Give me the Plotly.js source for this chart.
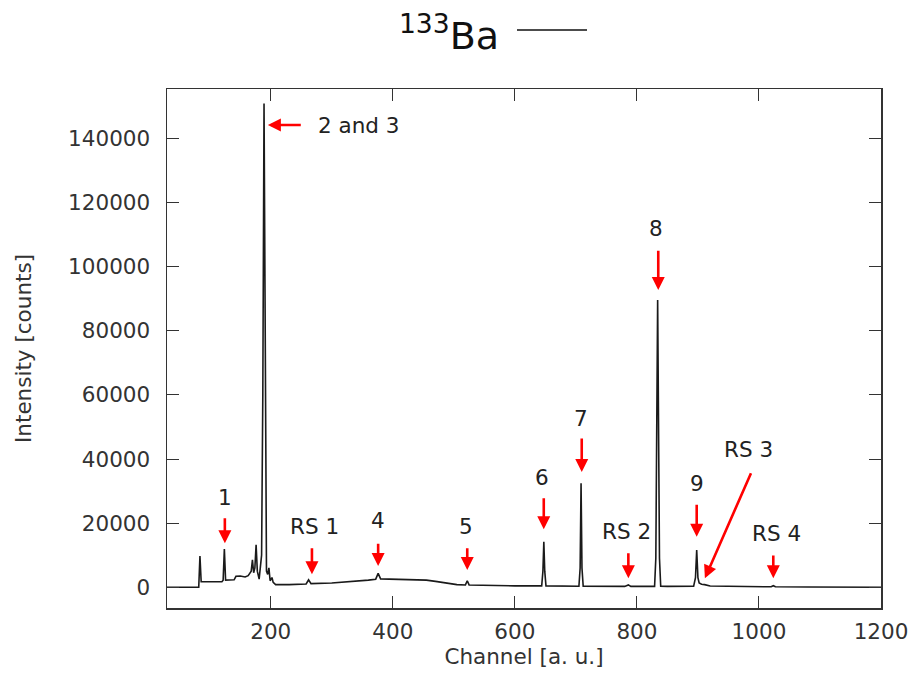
<!DOCTYPE html>
<html>
<head>
<meta charset="utf-8">
<script src="https://cdn.plot.ly/plotly-3.0.1.min.js"></script>
<style>html,body{margin:0;padding:0;background:#fff;}#chart{width:916px;height:689px;}</style>
</head>
<body>
<div id="chart"></div>
<script>
// Spectrum data (channel, counts)
const channel = [30, 82, 84, 86, 120, 122, 124, 126, 140, 143, 150, 158, 163, 168, 170, 172, 174, 176, 178, 181,
  185, 187, 189, 191, 193, 195, 197, 199, 202, 204, 208, 230, 258, 262, 266, 300, 330, 360, 372, 376,
  380, 420, 455, 470, 485, 505, 519, 522, 525, 560, 600, 644, 646, 647.5, 649, 651, 705, 707, 708.5, 710,
  712, 780, 786, 790, 829, 831, 834, 837, 839, 850, 893, 896, 898, 900, 902, 906, 911, 920, 960, 1000,
  1020, 1023.5, 1027, 1080, 1140, 1200];
const counts = [0, 0, 9700, 1700, 1700, 2200, 11900, 2200, 2300, 3400, 3500, 3200, 3600, 5000, 8500, 4500, 6000, 13200, 5000, 2500,
  10000, 60000, 151000, 60000, 5000, 4000, 6000, 2000, 3000, 1500, 800, 800, 1000, 2300, 1100, 1300, 1700, 2200, 2500, 4300,
  2600, 2400, 2200, 1800, 1300, 800, 700, 2000, 700, 500, 400, 400, 5000, 14200, 5000, 400, 300, 6000, 32400, 6000,
  300, 250, 700, 250, 250, 9000, 89600, 9000, 300, 250, 300, 3000, 11600, 3000, 1300, 900, 800, 350, 200, 150,
  120, 450, 120, 60, 20, 0];

// Peak labels and arrows (label position, arrow tail, arrow head) in data units
const peakLabels = ["1", "RS 1", "4", "5", "6", "7", "RS 2", "8", "9", "RS 3", "RS 4"];
const labelX = [124.3, 271.9, 375.2, 519.5, 645.3, 707.6, 783, 831.1, 897.8, 982.5, 1029];
const labelY = [27840, 18880, 20750, 18880, 34300, 52700, 17320, 112000, 32430, 42820, 16820];
const arrowHeadX = [124.8, 267.5, 376, 522, 647.4, 709.6, 786, 835, 898, 911.4, 1023.5];
const arrowHeadY = [13700, 4030, 6620, 5370, 18070, 35950, 2780, 92760, 15760, 2780, 2780];
const arrowTailX = [124.8, 267.5, 376, 522, 647.4, 709.6, 786, 835, 898, 988, 1023.5];
const arrowTailY = [22000, 12640, 14010, 12640, 28250, 46880, 11080, 105460, 26190, 36050, 10360];
const mainLabel = "2 and 3";
const mainLabelX = 274.7, mainLabelY = 144250;
const mainArrowHead = [195.3, 144250], mainArrowTail = [251.7, 144250];

const xTicks = [200, 400, 600, 800, 1000, 1200];
const yTicks = [0, 20000, 40000, 60000, 80000, 100000, 120000, 140000];
const xTitle = "Channel [a. u.]";
const yTitle = "Intensity [counts]";

const FONT = "DejaVu Sans, sans-serif";
const RED = "#ff0000";
const FS = 21.5;

const annotations = [];
for (let i = 0; i < peakLabels.length; i++) {
  annotations.push({
    x: arrowHeadX[i], y: arrowHeadY[i], xref: "x", yref: "y",
    ax: arrowTailX[i], ay: arrowTailY[i], axref: "x", ayref: "y",
    text: "", showarrow: true, arrowhead: 2, arrowsize: 1, arrowwidth: 2.6,
    arrowcolor: RED, standoff: 0, startstandoff: 0
  });
  annotations.push({
    x: labelX[i], y: labelY[i], xref: "x", yref: "y", text: peakLabels[i],
    showarrow: false, xanchor: "center", yanchor: "middle",
    font: {family: FONT, size: FS, color: "#222"}
  });
}
annotations.push({
  x: mainArrowHead[0], y: mainArrowHead[1], xref: "x", yref: "y",
  ax: mainArrowTail[0], ay: mainArrowTail[1], axref: "x", ayref: "y",
  text: "", showarrow: true, arrowhead: 2, arrowsize: 1, arrowwidth: 2.6,
  arrowcolor: RED, standoff: 0, startstandoff: 0
});
annotations.push({
  x: mainLabelX, y: mainLabelY, xref: "x", yref: "y", text: mainLabel,
  showarrow: false, xanchor: "left", yanchor: "middle",
  font: {family: FONT, size: FS, color: "#222"}
});

const trace = {
  x: channel, y: counts, type: "scatter", mode: "lines",
  line: {color: "#1a1a1a", width: 1.6}, showlegend: false, name: "133Ba"
};

const axisCommon = {
  showgrid: false, zeroline: false, showline: true, linecolor: "#333", linewidth: 1.5,
  mirror: "ticks", ticks: "inside", ticklen: 12, tickwidth: 1, tickcolor: "#333",
  tickfont: {family: FONT, size: FS, color: "#333"}
};

const layout = {
  width: 916, height: 689,
  margin: {l: 167, r: 35, t: 89, b: 81},
  paper_bgcolor: "#fff", plot_bgcolor: "#fff",
  title: {
    text: "<sup>133</sup>Ba", x: 449 / 916, xanchor: "center", xref: "container",
    y: 1 - 36 / 689, yanchor: "middle", yref: "container",
    font: {family: FONT, size: 38, color: "#111"}
  },
  xaxis: Object.assign({}, axisCommon, {
    range: [30, 1200], tickvals: xTicks, ticklabelstandoff: 4,
    title: {text: xTitle, font: {family: FONT, size: FS, color: "#333"}, standoff: 0}
  }),
  yaxis: Object.assign({}, axisCommon, {
    range: [-6500, 155500], tickvals: yTicks, tickformat: "d", ticklabelstandoff: 11,
    title: {text: yTitle, font: {family: FONT, size: FS, color: "#333"}, standoff: 30}
  }),
  shapes: [{
    type: "line", xref: "paper", yref: "paper",
    x0: (517 - 167) / 714, x1: (587 - 167) / 714,
    y0: (608 - 30) / 519, y1: (608 - 30) / 519,
    line: {color: "#111", width: 1.5}
  }],
  annotations: annotations
};

Plotly.newPlot("chart", [trace], layout, {staticPlot: true, displayModeBar: false});
</script>
</body>
</html>
